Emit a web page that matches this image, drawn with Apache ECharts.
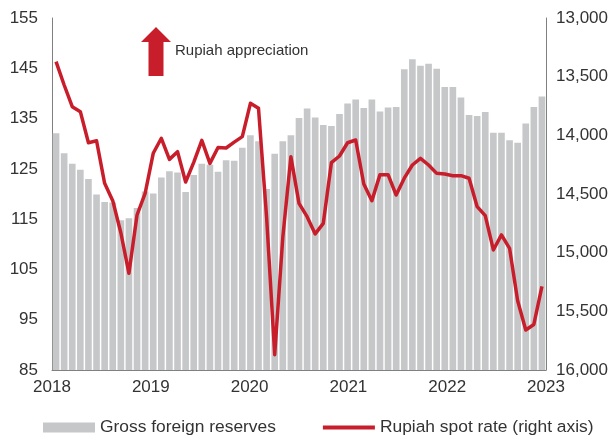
<!DOCTYPE html>
<html>
<head>
<meta charset="utf-8">
<script src="https://cdn.jsdelivr.net/npm/echarts@6/dist/echarts.min.js"></script>
<style>
  html, body { margin: 0; padding: 0; background: #fff; }
  #chart { width: 616px; height: 437px; }
</style>
</head>
<body>
<div id="chart"></div>
<script>
// monthly, Jan 2018 .. Jan 2023
const yearLabels = ['2018', '2019', '2020', '2021', '2022', '2023'];

const months = [];
for (let y = 2018; y <= 2023; y++) {
  for (let m = 1; m <= 12; m++) {
    if (y === 2023 && m > 1) break;
    months.push(y + '-' + (m < 10 ? '0' + m : m));
  }
}

// gross foreign reserves, USD bn (left axis)
const reserves = [
  132.1, 128.1, 126.0, 124.8, 123.0, 119.9, 118.4, 118.3, 114.8, 115.2, 117.2, 120.5,
  120.1, 123.3, 124.5, 124.3, 120.4, 123.8, 126.0, 125.8, 124.4, 126.7, 126.6, 129.2,
  131.7, 130.5, 121.0, 128.0, 130.5, 131.7, 135.1, 137.0, 135.2, 133.7, 133.5, 135.9,
  138.0, 138.8, 137.1, 138.8, 136.4, 137.2, 137.3, 144.8, 146.8, 145.5, 145.9, 144.9,
  141.3, 141.3, 139.2, 135.7, 135.5, 136.3, 132.2, 132.2, 130.7, 130.2, 134.0, 137.3,
  139.4
];

// rupiah per USD (right axis, inverted)
const spotRate = [
  13372, 13571, 13756, 13798, 14063, 14046, 14409, 14557, 14830, 15176, 14679, 14494,
  14153, 14025, 14205, 14139, 14398, 14230, 14043, 14239, 14104, 14108, 14058, 14011,
  13727, 13770, 14700, 15870, 14870, 14182, 14580, 14693, 14840, 14750, 14233, 14176,
  14063, 14040, 14415, 14557, 14335, 14335, 14509, 14365, 14253, 14196, 14253, 14324,
  14330, 14344, 14344, 14366, 14608, 14684, 14977, 14849, 14963, 15410, 15659, 15612,
  15287
];

const RED = '#c81e2b';
const GREY = '#c6c7c9';
const FONT = '"Liberation Sans", Arial, sans-serif';

const chart = echarts.init(document.getElementById('chart'));

chart.setOption({
  animation: false,
  textStyle: { fontFamily: FONT },
  grid: { left: 52, right: 70, top: 18, bottom: 67 },
  legend: {
    left: 43,
    top: 419,
    padding: 0,
    itemWidth: 52,
    itemHeight: 10,
    itemGap: 47,
    textStyle: { fontSize: 17.4, color: '#333', fontFamily: FONT },
    data: [
      { name: 'Gross foreign reserves', icon: 'rect' },
      // thin bar so the legend shows a plain line
      { name: 'Rupiah spot rate (right axis)', icon: 'path://M0,0L52,0L52,4L0,4Z' }
    ]
  },
  xAxis: [
    {
      type: 'category',
      data: months,
      axisLine: { lineStyle: { color: '#808080', width: 1 } },
      axisTick: { show: false },
      axisLabel: { show: false }
    },
    {
      type: 'category',
      data: yearLabels,
      boundaryGap: false,
      position: 'bottom',
      axisLine: { show: false },
      axisTick: { show: false },
      axisLabel: { interval: 0, fontSize: 17, color: '#333', margin: 9, fontFamily: FONT }
    }
  ],
  yAxis: [
    {
      type: 'value',
      min: 85,
      max: 155,
      interval: 10,
      axisLine: { show: true, lineStyle: { color: '#808080' } },
      axisTick: { show: false },
      splitLine: { show: false },
      axisLabel: { fontSize: 17, color: '#333', margin: 14, fontFamily: FONT }
    },
    {
      type: 'value',
      min: 13000,
      max: 16000,
      interval: 500,
      inverse: true,
      axisLine: { show: true, lineStyle: { color: '#808080' } },
      axisTick: { show: false },
      splitLine: { show: false },
      axisLabel: { fontSize: 17, color: '#333', margin: 10, fontFamily: FONT }
    }
  ],
  series: [
    {
      name: 'Gross foreign reserves',
      type: 'bar',
      xAxisIndex: 0,
      yAxisIndex: 0,
      data: reserves,
      barCategoryGap: '18%',
      itemStyle: { color: GREY }
    },
    {
      name: 'Rupiah spot rate (right axis)',
      type: 'line',
      xAxisIndex: 0,
      yAxisIndex: 1,
      data: spotRate,
      symbol: 'none',
      lineStyle: { color: RED, width: 3.5, join: 'round' },
      itemStyle: { color: RED },
      z: 5
    }
  ],
  graphic: [
    {
      type: 'polygon',
      shape: {
        points: [[156, 27], [171, 42], [163.5, 42], [163.5, 76], [148.5, 76], [148.5, 42], [141, 42]]
      },
      style: { fill: RED }
    },
    {
      type: 'text',
      left: 175,
      top: 43,
      style: { text: 'Rupiah appreciation', font: '15px ' + FONT, fill: '#333' }
    }
  ]
});
</script>
</body>
</html>
